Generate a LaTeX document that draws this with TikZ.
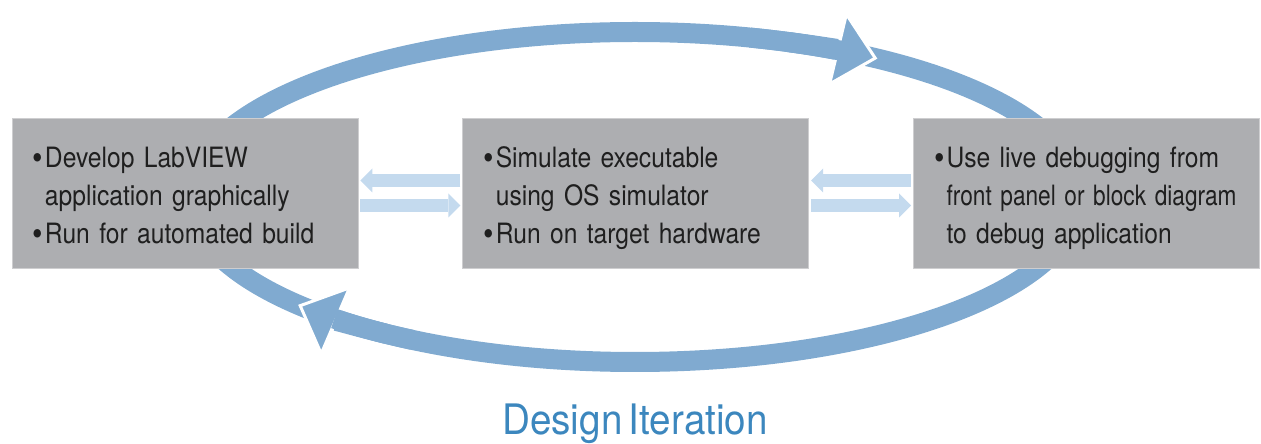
\documentclass[tikz,border=0pt]{standalone}
\usepackage{fontspec,graphicx}
\setmainfont{TeX Gyre Heros}[FakeStretch=0.88,WordSpace=0.6]
\newfontfamily\titlefont{TeX Gyre Heros}[FakeStretch=0.92,WordSpace=0.6]
\usetikzlibrary{arrows.meta,positioning}
\definecolor{BoxGray}{HTML}{ADAEB1}
\definecolor{Ring}{HTML}{80AAD0}
\definecolor{Pipe}{HTML}{C4DAEE}
\definecolor{Title}{HTML}{3C87BE}
\newcommand{\ind}{\hspace*{33pt}}
\newcommand{\bul}{\ind\llap{\raisebox{-2.5pt}{\fontsize{34pt}{34pt}\selectfont\textbullet}\hspace{2pt}}\rule{0pt}{31pt}}

\begin{document}
\begin{tikzpicture}[x=1pt,y=1pt,node distance=104pt,
  box/.style={fill=BoxGray,draw=BoxGray!60,line width=0.8pt,minimum height=150pt,text width=346pt,inner xsep=0pt,inner ysep=0pt,align=left,font=\fontsize{28pt}{38pt}\selectfont,text=black!88},
  pipe/.style={draw=Pipe,line width=13pt,-{Triangle[length=12pt,width=24pt,line width=0pt]},shorten >=2pt,shorten <=2pt},
  ring/.style={draw=Ring,line width=20pt},
  head/.style={ring,-{Triangle[length=42pt,width=78pt,line width=3pt,color=white,fill=Ring]}}]
\useasboundingbox (0,0) rectangle (1261,444);
% the loop behind the boxes
\draw[ring] (635,247) ellipse[x radius=445,y radius=165];
\draw[head] (635,247) ++(75:445 and 165) arc[start angle=75,end angle=57,x radius=445,y radius=165];
\draw[ring] (635,247) ++(70:445 and 165) arc[start angle=70,end angle=62.5,x radius=445,y radius=165];
\draw[head] (635,247) ++(240:445 and 165) arc[start angle=240,end angle=220.8,x radius=445,y radius=165];
\draw[ring] (635,247) ++(236:445 and 165) arc[start angle=236,end angle=227.5,x radius=445,y radius=165];
% boxes
\node[box] (a) at (185,251) {\bul Develop LabVIEW\\\ind application graphically\\\bul Run for automated build\vphantom{g}};
\node[box,right=of a] (b) {\bul Simulate executable\\\ind using OS simulator\\\bul Run on target hardware};
\node[box,right=of b] (c) {\bul Use live debugging from\\\ind\scalebox{0.92}[1]{front panel or block diagram}\\\ind to debug application};
\draw[pipe] ([yshift=12.5pt]b.west) -- ([yshift=12.5pt]a.east);
\draw[pipe] ([yshift=-12.5pt]a.east) -- ([yshift=-12.5pt]b.west);
\draw[pipe] ([yshift=12.5pt]c.west) -- ([yshift=12.5pt]b.east);
\draw[pipe] ([yshift=-12.5pt]b.east) -- ([yshift=-12.5pt]c.west);
\node[text=Title,font=\titlefont\fontsize{42pt}{42pt}\selectfont,anchor=base] (t) at (635,9.5) {Design Iteration};
\end{tikzpicture}
\end{document}
